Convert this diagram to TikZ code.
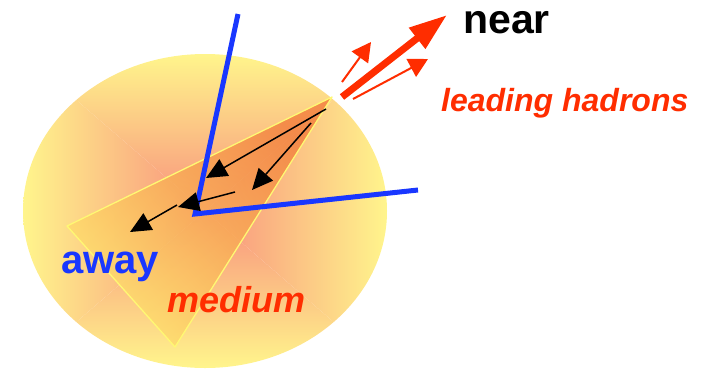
\documentclass[tikz,border=0pt]{standalone}
\usepackage{fontspec}
\setmainfont{Liberation Sans}
\usetikzlibrary{arrows.meta}
\definecolor{rimyellow}{RGB}{255,245,140}
\definecolor{coresalmon}{RGB}{248,145,125}
\definecolor{coneorange}{RGB}{242,125,60}
\definecolor{coneyellow}{RGB}{255,228,112}
\definecolor{jetred}{RGB}{255,45,0}
\definecolor{axisblue}{RGB}{25,55,255}
\newcommand\labsize[1]{\fontsize{#1}{#1}\selectfont}

\begin{document}
\begin{tikzpicture}[x=1bp, y=-1bp, every node/.style={inner sep=0pt, anchor=base west},
	hard/.style={-{Triangle[length=21bp, width=19bp]}, line width=1.5bp},
	jet/.style={jetred, -{Triangle[length=19bp, width=20bp]}, line width=2bp}]
	\useasboundingbox (0,0) rectangle (709,371);
	\coordinate (c) at (205,211);
	\coordinate (apex) at (332,97);
	\coordinate (vtx) at (195,214);
	% the medium, shaded from the rim to the centre
	\begin{scope}
		\clip (c) ellipse [x radius=182, y radius=157];
		\shade[top color=rimyellow, bottom color=coresalmon] (23,54) -- (387,54) -- (c) -- cycle;
		\shade[top color=coresalmon, bottom color=rimyellow] (23,368) -- (387,368) -- (c) -- cycle;
		\shade[left color=rimyellow, right color=coresalmon] (23,54) -- (23,368) -- (c) -- cycle;
		\shade[left color=coresalmon, right color=rimyellow] (387,54) -- (387,368) -- (c) -- cycle;
	\end{scope}
	\shade[top color=coneorange, bottom color=coneyellow, shading angle=-48, opacity=.8] (apex) -- (67,226) -- (175,347) -- cycle;
	\draw[yellow!55!white, line width=1.3bp, line join=round] (apex) -- (67,226) -- (175,347) -- cycle;
	\draw[axisblue, line width=5bp] (238,14) -- (vtx) -- (418,190);
	\draw[hard] (326,109) -- (206,178);
	\draw[hard] (311,123) -- (252,190);
	\draw[hard] (235,192) -- (178,207);
	\draw[hard] (177,205) -- (130,232);
	\draw[jet] (342,82) -- (371,42);
	\draw[jet] (353,99) -- (428,59);
	\draw[jet, line width=7bp, -{Triangle[length=38bp, width=25bp]}] (342,97) -- (447,15);
	\node (near) at (463,33) {\labsize{41bp}\bfseries near};
	\node[jetred] (lead) at (441,111) {\labsize{32bp}\bfseries\itshape leading hadrons};
	\node[axisblue] (away) at (61,273) {\labsize{40bp}\bfseries away};
	\node[jetred] (med) at (167,312) {\labsize{36bp}\bfseries\itshape medium};
\end{tikzpicture}
\end{document}
